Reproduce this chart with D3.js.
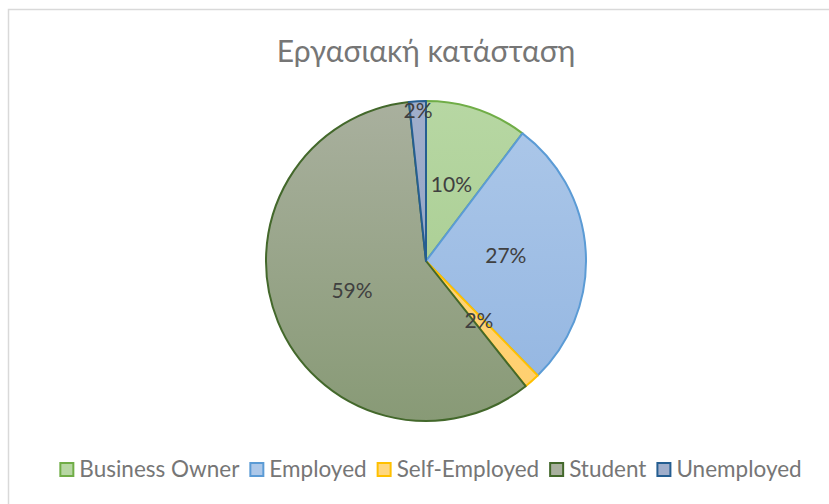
<!DOCTYPE html>
<html>
<head>
<meta charset="utf-8">
<script src="https://cdn.jsdelivr.net/npm/d3@7"></script>
<style>
  body { margin: 0; background: #fff; }
  text { font-family: Lato, "Noto Sans", sans-serif; }
</style>
</head>
<body>
<div id="chart"></div>
<script>
const title = "Εργασιακή κατάσταση";
const categories = ["Business Owner", "Employed", "Self-Employed", "Student", "Unemployed"];
const values = [10.3, 27.4, 1.6, 59.0, 1.7];
const fillTop = ["#b7d7a3", "#adc8e9", "#ffd780", "#a9b09e", "#a0aecb"];
const fillBottom = ["#a2c98a", "#92b5e1", "#ffcf6e", "#889a76", "#8fa1c2"];
const strokes = ["#70ad47", "#5b9bd5", "#ffc000", "#43682b", "#255e91"];
// slices whose label Excel pushes to the rim (best fit)
const labelAtRim = ["Unemployed"];

const W = 829, H = 504;
const cx = 426, cy = 261, r = 160;

const svg = d3.select("#chart").append("svg")
    .attr("width", W)
    .attr("height", H);

// chart area border (runs off the right/bottom of the picture)
svg.append("rect")
    .attr("x", 8.5).attr("y", 9.5)
    .attr("width", W + 10).attr("height", H + 10)
    .attr("fill", "none")
    .attr("stroke", "#d9d9d9")
    .attr("stroke-width", 1.5);

svg.append("text")
    .attr("x", cx).attr("y", 62)
    .attr("text-anchor", "middle")
    .attr("font-size", 30)
    .attr("fill", "#767676")
    .text(title);

const defs = svg.append("defs");
categories.forEach((c, i) => {
    const g = defs.append("linearGradient")
        .attr("id", "grad" + i)
        .attr("gradientUnits", "userSpaceOnUse")
        .attr("x1", 0).attr("y1", -r).attr("x2", 0).attr("y2", r);
    g.append("stop").attr("offset", "0%").attr("stop-color", fillTop[i]);
    g.append("stop").attr("offset", "100%").attr("stop-color", fillBottom[i]);
});

const data = categories.map((c, i) => ({ name: c, value: values[i], i }));

const pie = d3.pie().sort(null).value(d => d.value);
const arc = d3.arc().innerRadius(0).outerRadius(r);
const arcs = pie(data);

const g = svg.append("g").attr("transform", `translate(${cx},${cy})`);

g.selectAll("path.slice")
    .data(arcs)
    .enter().append("path")
        .attr("class", "slice")
        .attr("d", arc)
        .attr("fill", d => `url(#grad${d.data.i})`)
        .attr("stroke", d => strokes[d.data.i])
        .attr("stroke-width", 2)
        .attr("stroke-linejoin", "round");

const total = d3.sum(values);
const midArc = d3.arc().innerRadius(r * 0.5).outerRadius(r * 0.5);
const rimArc = d3.arc().innerRadius(r * 0.94).outerRadius(r * 0.94);

g.selectAll("text.lbl")
    .data(arcs)
    .enter().append("text")
        .attr("class", "lbl")
        .attr("text-anchor", "middle")
        .attr("font-size", 21)
        .attr("fill", "#404040")
        .attr("transform", d => {
            const p = (labelAtRim.includes(d.data.name) ? rimArc : midArc).centroid(d);
            return `translate(${p[0]},${p[1] + 7})`;
        })
        .text(d => Math.round(d.data.value / total * 100) + "%");

// legend
const legend = svg.append("g");
const items = legend.selectAll("g.item")
    .data(data)
    .enter().append("g")
        .attr("class", "item");

items.append("rect")
    .attr("width", 13).attr("height", 13)
    .attr("y", -14)
    .attr("fill", d => fillTop[d.i])
    .attr("stroke", d => strokes[d.i])
    .attr("stroke-width", 2);

items.append("text")
    .attr("x", 19)
    .attr("font-size", 22.5)
    .attr("fill", "#767676")
    .text(d => d.name);

let x = 0;
items.each(function () {
    const w = 19 + this.querySelector("text").getComputedTextLength();
    d3.select(this).attr("transform", `translate(${x},0)`);
    x += w + 11;
});
legend.attr("transform", `translate(${431 - (x - 11) / 2},477)`);
</script>
</body>
</html>
